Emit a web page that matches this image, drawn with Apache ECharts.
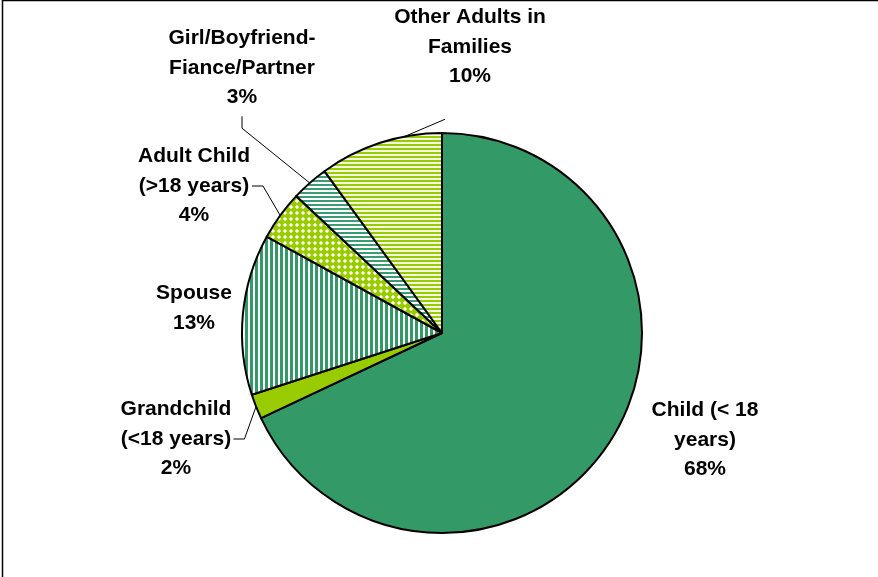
<!DOCTYPE html>
<html>
<head>
<meta charset="utf-8">
<script src="https://cdn.jsdelivr.net/npm/echarts@6/dist/echarts.min.js"></script>
<style>
  html, body { margin: 0; padding: 0; background: #fff; }
  #chart { width: 878px; height: 577px; }
</style>
</head>
<body>
<div id="chart"></div>
<script>
// Household relationship shares (percent)
const categories = [
  'Child (< 18\nyears)',
  'Grandchild\n(<18 years)',
  'Spouse',
  'Adult Child\n(>18 years)',
  'Girl/Boyfriend-\nFiance/Partner',
  'Other Adults in\nFamilies'
];
const shares = [68, 2, 13, 4, 3, 10];

// Label centres for each slice
const labelSpots = [
  [705, 440],
  [176, 439],
  [194, 308],
  [194, 186],
  [242, 68],
  [470, 47]
];
// Leader line style per slice
const guideKind = ['none', 'side', 'none', 'side', 'below', 'slant'];

const PIE_CENTER = [442, 333];
const PIE_RADIUS = 200;

function makeTile(w, h, draw) {
  const c = document.createElement('canvas');
  c.width = w; c.height = h;
  const ctx = c.getContext('2d');
  draw(ctx, w, h);
  return c;
}

// Vertical green stripes
const vStripes = makeTile(5, 5, (ctx) => {
  ctx.fillStyle = '#ffffff'; ctx.fillRect(0, 0, 5, 5);
  ctx.fillStyle = '#339966'; ctx.fillRect(0, 0, 3, 5);
});
// Horizontal teal-green stripes
const hStripesGreen = makeTile(4, 4, (ctx) => {
  ctx.fillStyle = '#ffffff'; ctx.fillRect(0, 0, 4, 4);
  ctx.fillStyle = '#3a9c72'; ctx.fillRect(0, 0, 4, 2);
});
// Horizontal yellow-green stripes
const hStripesLime = makeTile(4, 4, (ctx) => {
  ctx.fillStyle = '#f4f9e4'; ctx.fillRect(0, 0, 4, 4);
  ctx.fillStyle = '#99cc00'; ctx.fillRect(0, 0, 4, 2);
});
// Lime with white dots
const dots = makeTile(6, 6, (ctx) => {
  ctx.fillStyle = '#99cc00'; ctx.fillRect(0, 0, 6, 6);
  ctx.fillStyle = '#ffffff'; ctx.fillRect(2, 2, 2, 2);
  ctx.fillStyle = '#d8ec99';
  ctx.fillRect(1, 2, 1, 2); ctx.fillRect(4, 2, 1, 2);
  ctx.fillRect(2, 1, 2, 1); ctx.fillRect(2, 4, 2, 1);
});

const fills = [
  '#339966',
  '#99cc00',
  { image: vStripes, repeat: 'repeat' },
  { image: dots, repeat: 'repeat' },
  { image: hStripesGreen, repeat: 'repeat' },
  { image: hStripesLime, repeat: 'repeat' }
];

// Point on the pie rim at a fraction along a slice (0 = slice start, 1 = slice end)
function rimPoint(index, frac) {
  const total = shares.reduce((a, b) => a + b, 0);
  let before = 0;
  for (let i = 0; i < index; i++) before += shares[i];
  const share = (before + shares[index] * frac) / total;
  const ang = (90 - share * 360) * Math.PI / 180;
  return [PIE_CENTER[0] + PIE_RADIUS * Math.cos(ang), PIE_CENTER[1] - PIE_RADIUS * Math.sin(ang)];
}

const chart = echarts.init(document.getElementById('chart'), null, { renderer: 'canvas' });

chart.setOption({
  animation: false,
  backgroundColor: '#ffffff',
  graphic: [{
    type: 'rect',
    shape: { x: 2.5, y: 0.5, width: 1000, height: 1000 },
    style: { fill: 'none', stroke: '#000', lineWidth: 1.5 },
    silent: true
  }],
  series: [{
    type: 'pie',
    center: PIE_CENTER,
    radius: [0, PIE_RADIUS],
    startAngle: 90,
    clockwise: true,
    avoidLabelOverlap: false,
    itemStyle: { borderColor: '#000', borderWidth: 2 },
    label: {
      show: true,
      position: 'outside',
      formatter: (p) => p.name + '\n' + p.value + '%',
      fontFamily: 'Liberation Sans, Arial, sans-serif',
      fontWeight: 'bold',
      fontSize: 21,
      lineHeight: 29.5,
      color: '#000',
      align: 'center'
    },
    labelLine: {
      show: true,
      lineStyle: { color: '#000', width: 1 }
    },
    labelLayout: (params) => {
      const i = params.dataIndex;
      const s = labelSpots[i];
      const w = params.labelRect.width;
      const h = params.labelRect.height;
      const out = { x: s[0], y: s[1], align: 'center', verticalAlign: 'middle' };
      const kind = guideKind[i];
      const mid = rimPoint(i, 0.5);
      if (kind === 'side') {
        const right = s[0] + w / 2 + 2;
        out.labelLinePoints = [mid, [right + 11, s[1]], [right, s[1]]];
      } else if (kind === 'below') {
        const bottom = s[1] + h / 2 + 4;
        out.labelLinePoints = [mid, [s[0], bottom + 12], [s[0], bottom]];
      } else if (kind === 'slant') {
        const edge = rimPoint(i, 0.7);
        const bottom = s[1] + h / 2;
        const end = [s[0] - 25, bottom + 28];
        out.labelLinePoints = [edge, [(edge[0] + end[0]) / 2, (edge[1] + end[1]) / 2], end];
      }
      return out;
    },
    data: categories.map((name, i) => ({
      name: name,
      value: shares[i],
      itemStyle: { color: fills[i] },
      labelLine: { show: guideKind[i] !== 'none' }
    }))
  }]
});
</script>
</body>
</html>
